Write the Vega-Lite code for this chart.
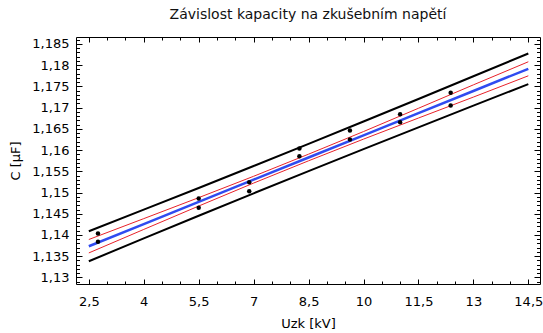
{
  "$schema": "https://vega.github.io/schema/vega-lite/v6.json",
  "width": 464,
  "height": 247,
  "autosize": {"type": "none"},
  "padding": {"left": 76, "top": 37, "right": 3, "bottom": 49},
  "background": "white",
  "title": {"text": "Závislost kapacity na zkušebním napětí", "font": "DejaVu Sans", "fontSize": 14, "fontWeight": "normal", "color": "#111", "anchor": "middle", "frame": "group", "offset": 12},
  "config": {"view": {"stroke": "#000", "strokeWidth": 1}},
  "datasets": {
    "curves": [
      {"x": 2.5, "fit": 1.13736, "cu": 1.13894, "cl": 1.13578, "pu": 1.14089, "pl": 1.13383},
      {"x": 4, "fit": 1.14258, "cu": 1.14385, "cl": 1.14131, "pu": 1.14597, "pl": 1.13919},
      {"x": 5.5, "fit": 1.14780, "cu": 1.14879, "cl": 1.14681, "pu": 1.15107, "pl": 1.14453},
      {"x": 7, "fit": 1.15302, "cu": 1.15382, "cl": 1.15222, "pu": 1.15624, "pl": 1.14980},
      {"x": 8.5, "fit": 1.15824, "cu": 1.15902, "cl": 1.15746, "pu": 1.16144, "pl": 1.15504},
      {"x": 10, "fit": 1.16345, "cu": 1.16434, "cl": 1.16256, "pu": 1.16670, "pl": 1.16020},
      {"x": 11.5, "fit": 1.16867, "cu": 1.16982, "cl": 1.16752, "pu": 1.17201, "pl": 1.16533},
      {"x": 13, "fit": 1.17389, "cu": 1.17533, "cl": 1.17245, "pu": 1.17735, "pl": 1.17043},
      {"x": 14.5, "fit": 1.17911, "cu": 1.18076, "cl": 1.17746, "pu": 1.18271, "pl": 1.17551}
    ],
    "points": [
      {"u": 2.75, "c": 1.14035}, {"u": 2.75, "c": 1.13840},
      {"u": 5.5, "c": 1.14859}, {"u": 5.5, "c": 1.14640},
      {"u": 6.88, "c": 1.15242}, {"u": 6.88, "c": 1.15031},
      {"u": 8.25, "c": 1.16035}, {"u": 8.25, "c": 1.15854},
      {"u": 9.63, "c": 1.16459}, {"u": 9.63, "c": 1.16247},
      {"u": 11.0, "c": 1.16842}, {"u": 11.0, "c": 1.16654},
      {"u": 12.38, "c": 1.17346}, {"u": 12.38, "c": 1.17047}
    ]
  },
  "layer": [
    {
      "data": {"name": "curves"},
      "mark": {"type": "line", "color": "#000", "strokeWidth": 2},
      "encoding": {
        "x": {"field": "x", "type": "quantitative", "title": "Uzk [kV]",
          "scale": {"domain": [2.15, 14.819], "nice": false, "zero": false},
          "axis": {"orient": "bottom", "values": [2.5,3,3.5,4,4.5,5,5.5,6,6.5,7,7.5,8,8.5,9,9.5,10,10.5,11,11.5,12,12.5,13,13.5,14,14.5],
            "domain": false, "grid": false, "tickColor": "#000", "tickWidth": 1,
            "tickSize": {"condition": {"test": "abs((datum.value-2.5)/1.5 - round((datum.value-2.5)/1.5)) < 0.01", "value": -5}, "value": -3},
            "labelExpr": "abs((datum.value-2.5)/1.5 - round((datum.value-2.5)/1.5)) < 0.01 ? replace(format(datum.value, '.1~f'), '.', ',') : ''",
            "labelPadding": 16, "labelFont": "DejaVu Sans", "labelFontSize": 13, "labelColor": "#000", "labelOverlap": false, "labelFlush": false,
            "titleFont": "DejaVu Sans", "titleFontSize": 13, "titleFontWeight": "normal", "titleColor": "#000", "titlePadding": 7}},
        "y": {"field": "pu", "type": "quantitative", "title": "C [μF]",
          "scale": {"domain": [1.12847, 1.18659], "nice": false, "zero": false},
          "axis": {"orient": "left", "values": [1.129,1.13,1.131,1.132,1.133,1.134,1.135,1.136,1.137,1.138,1.139,1.14,1.141,1.142,1.143,1.144,1.145,1.146,1.147,1.148,1.149,1.15,1.151,1.152,1.153,1.154,1.155,1.156,1.157,1.158,1.159,1.16,1.161,1.162,1.163,1.164,1.165,1.166,1.167,1.168,1.169,1.17,1.171,1.172,1.173,1.174,1.175,1.176,1.177,1.178,1.179,1.18,1.181,1.182,1.183,1.184,1.185,1.186],
            "domain": false, "grid": false, "tickColor": "#000", "tickWidth": 1,
            "tickSize": {"condition": {"test": "abs(datum.value*200 - round(datum.value*200)) < 0.01", "value": -6}, "value": -3.5},
            "labelExpr": "abs(datum.value*200 - round(datum.value*200)) < 0.01 ? replace(format(datum.value, '.3~f'), '.', ',') : ''",
            "labelPadding": 13, "labelFont": "DejaVu Sans", "labelFontSize": 13, "labelColor": "#000", "labelOverlap": false, "labelFlush": false,
            "titleFont": "DejaVu Sans", "titleFontSize": 13, "titleFontWeight": "normal", "titleColor": "#000", "titlePadding": 9}}
      }
    },
    {
      "data": {"name": "curves"},
      "mark": {"type": "line", "color": "#000", "strokeWidth": 2},
      "encoding": {
        "x": {"field": "x", "type": "quantitative", "title": null,
          "scale": {"domain": [2.15, 14.819], "nice": false, "zero": false},
          "axis": {"orient": "top", "values": [2.5,3,3.5,4,4.5,5,5.5,6,6.5,7,7.5,8,8.5,9,9.5,10,10.5,11,11.5,12,12.5,13,13.5,14,14.5],
            "domain": false, "grid": false, "labels": false, "tickColor": "#000", "tickWidth": 1,
            "tickSize": {"condition": {"test": "abs((datum.value-2.5)/1.5 - round((datum.value-2.5)/1.5)) < 0.01", "value": -5}, "value": -3}}},
        "y": {"field": "pl", "type": "quantitative", "title": null,
          "scale": {"domain": [1.12847, 1.18659], "nice": false, "zero": false},
          "axis": {"orient": "right", "values": [1.129,1.13,1.131,1.132,1.133,1.134,1.135,1.136,1.137,1.138,1.139,1.14,1.141,1.142,1.143,1.144,1.145,1.146,1.147,1.148,1.149,1.15,1.151,1.152,1.153,1.154,1.155,1.156,1.157,1.158,1.159,1.16,1.161,1.162,1.163,1.164,1.165,1.166,1.167,1.168,1.169,1.17,1.171,1.172,1.173,1.174,1.175,1.176,1.177,1.178,1.179,1.18,1.181,1.182,1.183,1.184,1.185,1.186],
            "domain": false, "grid": false, "labels": false, "tickColor": "#000", "tickWidth": 1,
            "tickSize": {"condition": {"test": "abs(datum.value*200 - round(datum.value*200)) < 0.01", "value": -6}, "value": -3.5}}}
      }
    },
    {
      "data": {"name": "curves"},
      "mark": {"type": "line", "color": "#e8222a", "strokeWidth": 1},
      "encoding": {
        "x": {"field": "x", "type": "quantitative", "axis": null, "scale": {"domain": [2.15, 14.819], "nice": false, "zero": false}},
        "y": {"field": "cu", "type": "quantitative", "axis": null, "scale": {"domain": [1.12847, 1.18659], "nice": false, "zero": false}}
      }
    },
    {
      "data": {"name": "curves"},
      "mark": {"type": "line", "color": "#e8222a", "strokeWidth": 1},
      "encoding": {
        "x": {"field": "x", "type": "quantitative", "axis": null, "scale": {"domain": [2.15, 14.819], "nice": false, "zero": false}},
        "y": {"field": "cl", "type": "quantitative", "axis": null, "scale": {"domain": [1.12847, 1.18659], "nice": false, "zero": false}}
      }
    },
    {
      "data": {"name": "curves"},
      "mark": {"type": "line", "color": "#2f4bf0", "strokeWidth": 2.5},
      "encoding": {
        "x": {"field": "x", "type": "quantitative", "axis": null, "scale": {"domain": [2.15, 14.819], "nice": false, "zero": false}},
        "y": {"field": "fit", "type": "quantitative", "axis": null, "scale": {"domain": [1.12847, 1.18659], "nice": false, "zero": false}}
      }
    },
    {
      "data": {"name": "points"},
      "mark": {"type": "point", "shape": "circle", "filled": true, "color": "#000", "opacity": 1, "size": 20},
      "encoding": {
        "x": {"field": "u", "type": "quantitative", "axis": null, "scale": {"domain": [2.15, 14.819], "nice": false, "zero": false}},
        "y": {"field": "c", "type": "quantitative", "axis": null, "scale": {"domain": [1.12847, 1.18659], "nice": false, "zero": false}}
      }
    }
  ],
  "resolve": {"axis": {"x": "independent", "y": "independent"}}
}
